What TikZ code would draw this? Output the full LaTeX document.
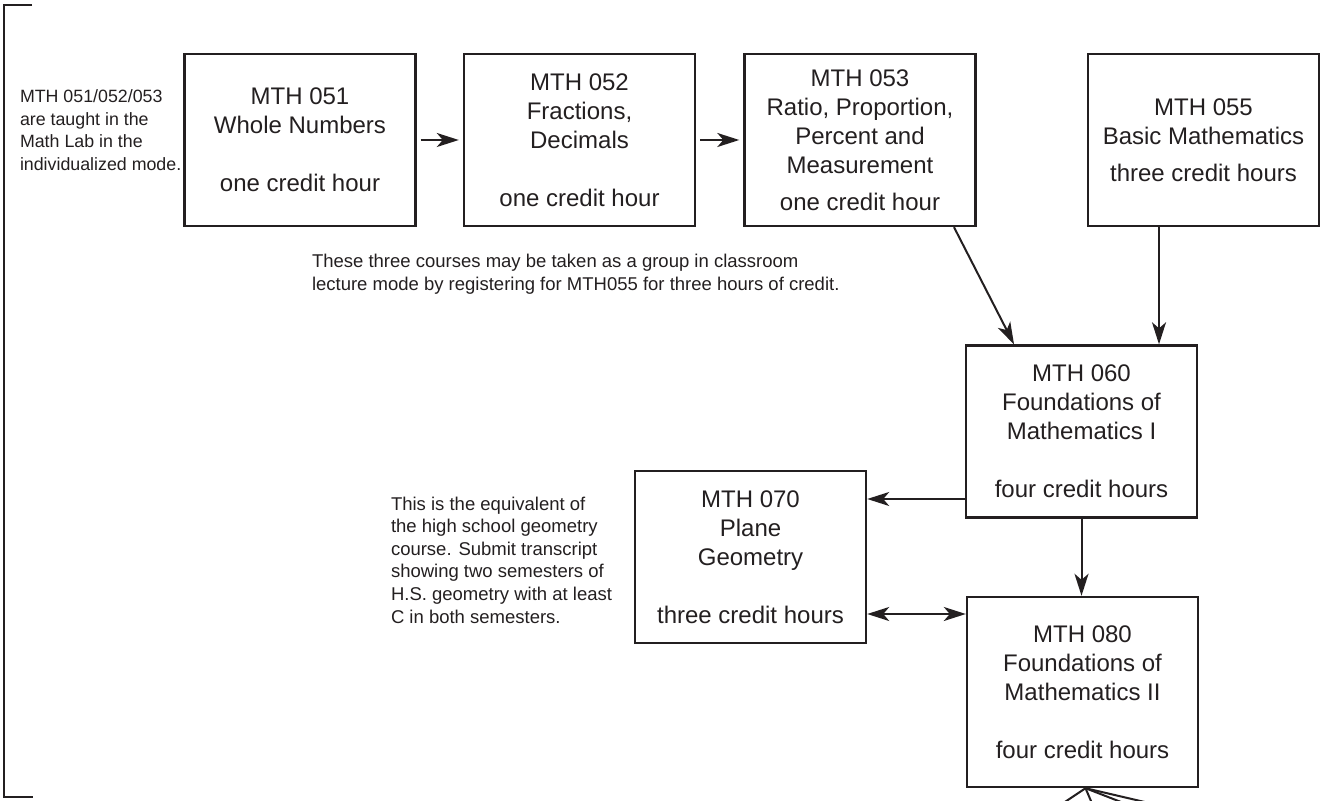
\documentclass[tikz,border=0pt]{standalone}
\usepackage{fontspec}
\setmainfont{Liberation Sans}
\usetikzlibrary{arrows.meta,calc}
\definecolor{ink}{HTML}{231f20}

\begin{document}
\begin{tikzpicture}[x=0.5pt,y=-0.5pt,line width=1pt,color=ink,
	course/.style={draw,line width=1.2pt,minimum width=115.5pt,minimum height=86pt,inner sep=0pt,align=center,font=\fontsize{12}{14.5}\selectfont},
	note/.style={anchor=west,align=left,inner sep=0pt,font=\fontsize{9.25}{11.3}\selectfont},
	arr/.style={-{Stealth[length=11pt,width=7pt,inset=3pt]}},
	dblarr/.style={{Stealth[length=11pt,width=7pt,inset=3pt]}-{Stealth[length=11pt,width=7pt,inset=3pt]}}]
	\useasboundingbox (0,0) rectangle (1321,801);
	
	% bracket on the left
	\draw[line width=1.4pt] (32,5) -- (4,5) -- (4,797) -- (33,797);
	
	\node[course] (m051) at (300,140) {MTH 051\\Whole Numbers\\[14.5pt]one credit hour};
	\node[course] (m052) at (579.5,140) {MTH 052\\Fractions,\\Decimals\\[14.5pt]one credit hour};
	\node[course] (m053) at (860,140) {MTH 053\\Ratio, Proportion,\\Percent and\\Measurement\\[4pt]one credit hour};
	\node[course] (m055) at (1203.5,140) {MTH 055\\Basic Mathematics\\[4pt]three credit hours};
	\node[course] (m060) at (1081.5,431.5) {MTH 060\\Foundations of\\Mathematics I\\[14.5pt]four credit hours};
	\node[course] (m070) at (750.5,557) {MTH 070\\Plane\\Geometry\\[14.5pt]three credit hours};
	\node[course,minimum height=95pt] (m080) at (1082.5,692) {MTH 080\\Foundations of\\Mathematics II\\[14.5pt]four credit hours};
	
	\node[note,font=\fontsize{8.9}{11.3}\selectfont] (lab) at (19,130) {MTH 051/052/053\\are taught in the\\Math Lab in the\\individualized mode.};
	\node[note] (group) at (311,274.5) {These three courses may be taken as a group in classroom\\lecture mode by registering for MTH055 for three hours of credit.};
	\node[note] (geom) at (390,560) {This is the equivalent of\\the high school geometry\\course. Submit transcript\\showing two semesters of\\H.S. geometry with at least\\C in both semesters.};
	
	\draw[arr,shorten <=2pt,shorten >=2pt] (m051) -- (m052);
	\draw[arr,shorten <=2pt,shorten >=2pt] (m052) -- (m053);
	\draw[arr] ($(m053.south)+(94,0)$) -- ($(m060.north)+(-67.5,0)$);
	\coordinate (j55) at ($(m055.south)+(-44.5,0)$);
	\draw[arr] (j55) -- (j55 |- m060.north);
	\coordinate (j60) at ($(m060.west)+(0,67.5)$);
	\draw[arr] (j60) -- (j60 -| m070.east);
	\coordinate (j70) at ($(m070.east)+(0,57)$);
	\draw[dblarr] (j70) -- (j70 -| m080.west);
	\draw[arr] (m060.south) -- (m060.south |- m080.north);
	
	% lines leaving the page at the bottom
	\coordinate (fan) at ($(m080.south)+(3,0)$);
	\foreach \dx in {-21,6,36,60}
		\draw (fan) -- ++(\dx,14);
\end{tikzpicture}
\end{document}
